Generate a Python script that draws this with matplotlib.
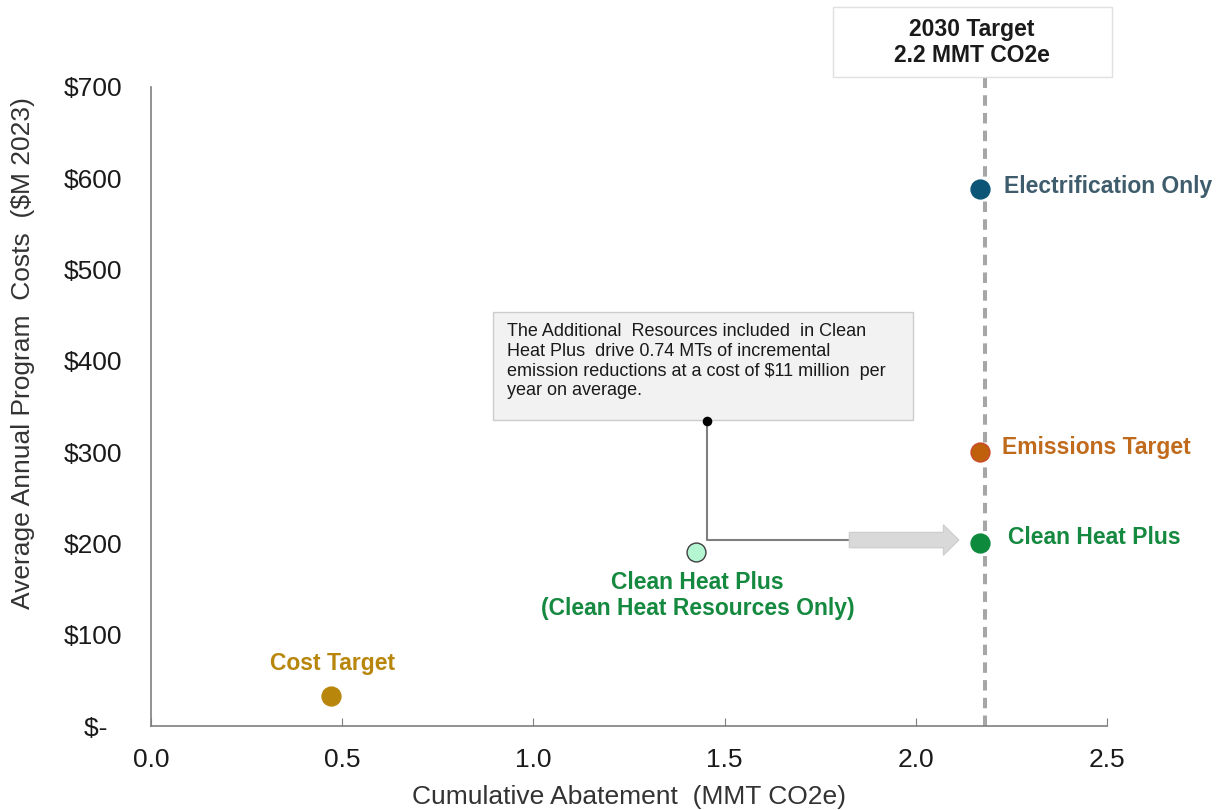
import matplotlib.pyplot as plt
from matplotlib.patches import Rectangle
from matplotlib.ticker import FuncFormatter

plt.rcParams['font.family'] = ['Liberation Sans', 'DejaVu Sans']

# scenario points: cumulative abatement (MMT CO2e) vs average annual cost ($M 2023)
scenarios = ['Electrification Only', 'Emissions Target', 'Clean Heat Plus',
             'Clean Heat Plus\n(Clean Heat Resources Only)', 'Cost Target']
abatement = [2.168, 2.168, 2.168, 1.425, 0.471]
cost = [588, 300, 200, 191, 33]
target_abatement = 2.18

xticks = [0.0, 0.5, 1.0, 1.5, 2.0, 2.5]
yticks = [0, 100, 200, 300, 400, 500, 600, 700]

note = ("The Additional  Resources included  in Clean\n"
        "Heat Plus  drive 0.74 MTs of incremental\n"
        "emission reductions at a cost of $11 million  per\n"
        "year on average.")

fig = plt.figure(figsize=(12.22, 8.1), dpi=100)
ax = fig.add_axes([0.1236, 0.1037, 0.7824, 0.7889])

# target line
ax.axvline(target_abatement, ymin=0, ymax=1.016, color='#a6a6a6', lw=2.9,
           dashes=(2.6, 1.8), clip_on=False, zorder=1)

# (face, edge, label colour, label offset, alignment)
point_style = {
    'Electrification Only': ('#0c5577', '#0c5577', '#3e5c6c', (17, 2), 'left'),
    'Emissions Target': ('#c0600c', '#c84a2a', '#c06a1c', (15.5, 3), 'left'),
    'Clean Heat Plus': ('#0d8a3c', '#0d8a3c', '#14893f', (20, 4), 'left'),
    'Clean Heat Plus\n(Clean Heat Resources Only)': ('#b4f5d2', '#404040', '#14893f', (1, -14), 'center'),
    'Cost Target': ('#b8860b', '#b8860b', '#b8860b', (1, 23), 'center'),
}

for name, x, y in zip(scenarios, abatement, cost):
    fc, ec, tc, off, ha = point_style[name]
    ax.scatter(x, y, s=185, color=fc, edgecolor=ec, linewidth=1, zorder=4)
    va = 'top' if off[1] < -5 else 'center'
    ax.annotate(name, (x, y), xytext=off, textcoords='offset points',
                ha=ha, va=va, fontsize=16.5, fontweight='bold', color=tc,
                linespacing=1.15)

# callout box with elbow connector and block arrow
ax.add_patch(Rectangle((0.894, 335), 1.099, 118.4, fc='#f2f2f2', ec='#cccccc',
                       lw=1, zorder=2))
ax.text(0.931, 441, note, ha='left', va='top', fontsize=13, color='#1a1a1a',
        linespacing=1.2, zorder=3)
ax.plot([1.454, 1.454, 1.83], [334, 203.7, 203.7], color='#7f7f7f', lw=1.5, zorder=2)
ax.scatter(1.454, 334, s=35, color='black', zorder=5)
ax.annotate('', xy=(2.112, 203.7), xytext=(1.826, 203.7),
            arrowprops=dict(arrowstyle='simple,head_width=1.08,head_length=0.55,tail_width=0.55',
                            mutation_scale=20, fc='#d9d9d9', ec='#cfcfcf', lw=1,
                            shrinkA=0, shrinkB=0))

# 2030 target label box above the plot
trans = ax.get_xaxis_transform()
ax.add_patch(Rectangle((1.783, 1.0156), 0.73, 0.1094, transform=trans, fc='white',
                       ec='#e0e0e0', lw=1, clip_on=False, zorder=2))
ax.text(2.147, 1.07, '2030 Target\n2.2 MMT CO2e', transform=trans,
        ha='center', va='center', fontsize=16.5, fontweight='bold', color='#1a1a1a',
        linespacing=1.15, zorder=3)

ax.set_xlim(0, 2.5)
ax.set_ylim(0, 700)
ax.set_xticks(xticks)
ax.set_yticks(yticks)
ax.xaxis.set_major_formatter(FuncFormatter(lambda v, p: f'{v:.1f}'))
ax.yaxis.set_major_formatter(FuncFormatter(lambda v, p: '$-  ' if v == 0 else f'${v:.0f}'))
ax.tick_params(axis='x', direction='in', length=6, color='#7f7f7f', labelsize=19,
               labelcolor='#1a1a1a', pad=16)
ax.tick_params(axis='y', length=0, labelsize=19, labelcolor='#1a1a1a', pad=21)

for side in ['top', 'right']:
    ax.spines[side].set_visible(False)
for side in ['left', 'bottom']:
    ax.spines[side].set_color('#7f7f7f')
    ax.spines[side].set_linewidth(1.2)

ax.set_xlabel('Cumulative Abatement  (MMT CO2e)', fontsize=19, color='#333333', labelpad=9)
ax.set_ylabel('Average Annual Program  Costs  ($M 2023)', fontsize=19, color='#333333')
ax.yaxis.set_label_coords(-0.121, 0.584)

fig.savefig('out.png', dpi=100)
